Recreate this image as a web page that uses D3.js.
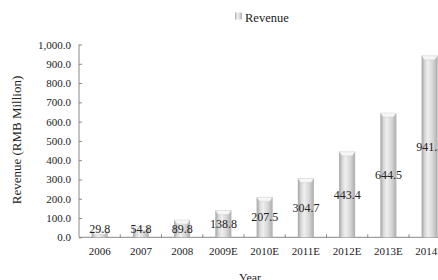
<!DOCTYPE html>
<html>
<head>
<meta charset="utf-8">
<script src="https://cdn.jsdelivr.net/npm/d3@7"></script>
<style>
  body { margin: 0; background: #fff; overflow: hidden; }
  text { font-family: "Liberation Serif", "DejaVu Serif", serif; fill: #222; }
</style>
</head>
<body>
<div id="chart"></div>
<script>
// data
var years = ["2006", "2007", "2008", "2009E", "2010E", "2011E", "2012E", "2013E", "2014E"];
var revenue = [29.8, 54.8, 89.8, 138.8, 207.5, 304.7, 443.4, 644.5, 941.3];
var yTicks = [0, 100, 200, 300, 400, 500, 600, 700, 800, 900, 1000];

var W = 438, H = 280;
var margin = {top: 44.5, left: 79},
    plotW = 9 * 41.25,
    plotH = 237.3 - margin.top;

var svg = d3.select("#chart").append("svg")
    .attr("width", W)
    .attr("height", H);

// cylinder-ish gradient for the bars
var defs = svg.append("defs");
var grad = defs.append("linearGradient").attr("id", "barGrad")
    .attr("x1", "0%").attr("x2", "100%").attr("y1", "0%").attr("y2", "0%");
[[0, "#a2a2a2"], [0.2, "#d8d8d8"], [0.4, "#efefef"], [0.7, "#d6d6d6"], [1, "#acacac"]]
  .forEach(function(s) { grad.append("stop").attr("offset", s[0]).attr("stop-color", s[1]); });

var g = svg.append("g")
    .attr("transform", "translate(" + margin.left + "," + margin.top + ")");

var x = d3.scaleBand().domain(years).range([0, plotW]).paddingInner(0).paddingOuter(0);
var y = d3.scaleLinear().domain([0, 1000]).range([plotH, 0]);
var barW = 16;

// y axis
var yAxis = g.append("g")
    .call(d3.axisLeft(y).tickValues(yTicks).tickSize(-3).tickPadding(8)
      .tickFormat(d3.format(",.1f")));
yAxis.select(".domain").attr("stroke", "#888").attr("d", "M0," + plotH + "V0");
yAxis.selectAll(".tick line").attr("stroke", "#888");
yAxis.selectAll("text").style("font-size", "11px").attr("fill", "#222");

// x axis, ticks sit between categories and point up
var xAxis = g.append("g")
    .attr("transform", "translate(0," + plotH + ")");
xAxis.append("line").attr("x1", 0).attr("x2", plotW).attr("stroke", "#888");
xAxis.selectAll(".sep")
    .data(years.slice(1))
  .enter().append("line")
    .attr("x1", function(d) { return x(d); })
    .attr("x2", function(d) { return x(d); })
    .attr("y1", -3).attr("y2", 0)
    .attr("stroke", "#888");
xAxis.selectAll(".lbl")
    .data(years)
  .enter().append("text")
    .attr("x", function(d) { return x(d) + x.bandwidth() / 2; })
    .attr("y", 18)
    .attr("text-anchor", "middle")
    .style("font-size", "11px")
    .text(function(d) { return d; });

// bars
var bars = g.selectAll(".bar")
    .data(years.map(function(d, i) { return {year: d, value: revenue[i]}; }))
  .enter().append("g");

bars.append("rect")
    .attr("x", function(d) { return x(d.year) + (x.bandwidth() - barW) / 2; })
    .attr("y", function(d) { return y(d.value); })
    .attr("width", barW)
    .attr("height", function(d) { return plotH - y(d.value); })
    .attr("fill", "url(#barGrad)");

// little bevelled cap on top of each bar
bars.append("path")
    .attr("d", function(d) {
      var x0 = x(d.year) + (x.bandwidth() - barW) / 2, y0 = y(d.value);
      var c = Math.min(4, (plotH - y0) / 2);
      return "M" + x0 + "," + y0 + "H" + (x0 + barW) +
             "L" + (x0 + barW - 3) + "," + (y0 + c) + "H" + (x0 + 3) + "Z";
    })
    .attr("fill", "#f7f7f7")
    .attr("stroke", "#cfcfcf")
    .attr("stroke-width", 0.5);

// value labels in the middle of each bar
bars.append("text")
    .attr("x", function(d) { return x(d.year) + x.bandwidth() / 2; })
    .attr("y", function(d) { return Math.min((y(d.value) + plotH) / 2, plotH - 9); })
    .attr("dy", "0.35em")
    .attr("text-anchor", "middle")
    .style("font-size", "12px")
    .text(function(d) { return d3.format(".1f")(d.value); });

// axis titles
svg.append("text")
    .attr("transform", "translate(21,140) rotate(-90)")
    .attr("text-anchor", "middle")
    .style("font-size", "13px")
    .text("Revenue (RMB Million)");

svg.append("text")
    .attr("x", 250).attr("y", 282)
    .attr("text-anchor", "middle")
    .style("font-size", "12px")
    .text("Year");

// legend
svg.append("rect")
    .attr("x", 235).attr("y", 12.5).attr("width", 7).attr("height", 7)
    .attr("fill", "url(#barGrad)");
svg.append("text")
    .attr("x", 245).attr("y", 21.5)
    .style("font-size", "12.5px")
    .text("Revenue");
</script>
</body>
</html>
